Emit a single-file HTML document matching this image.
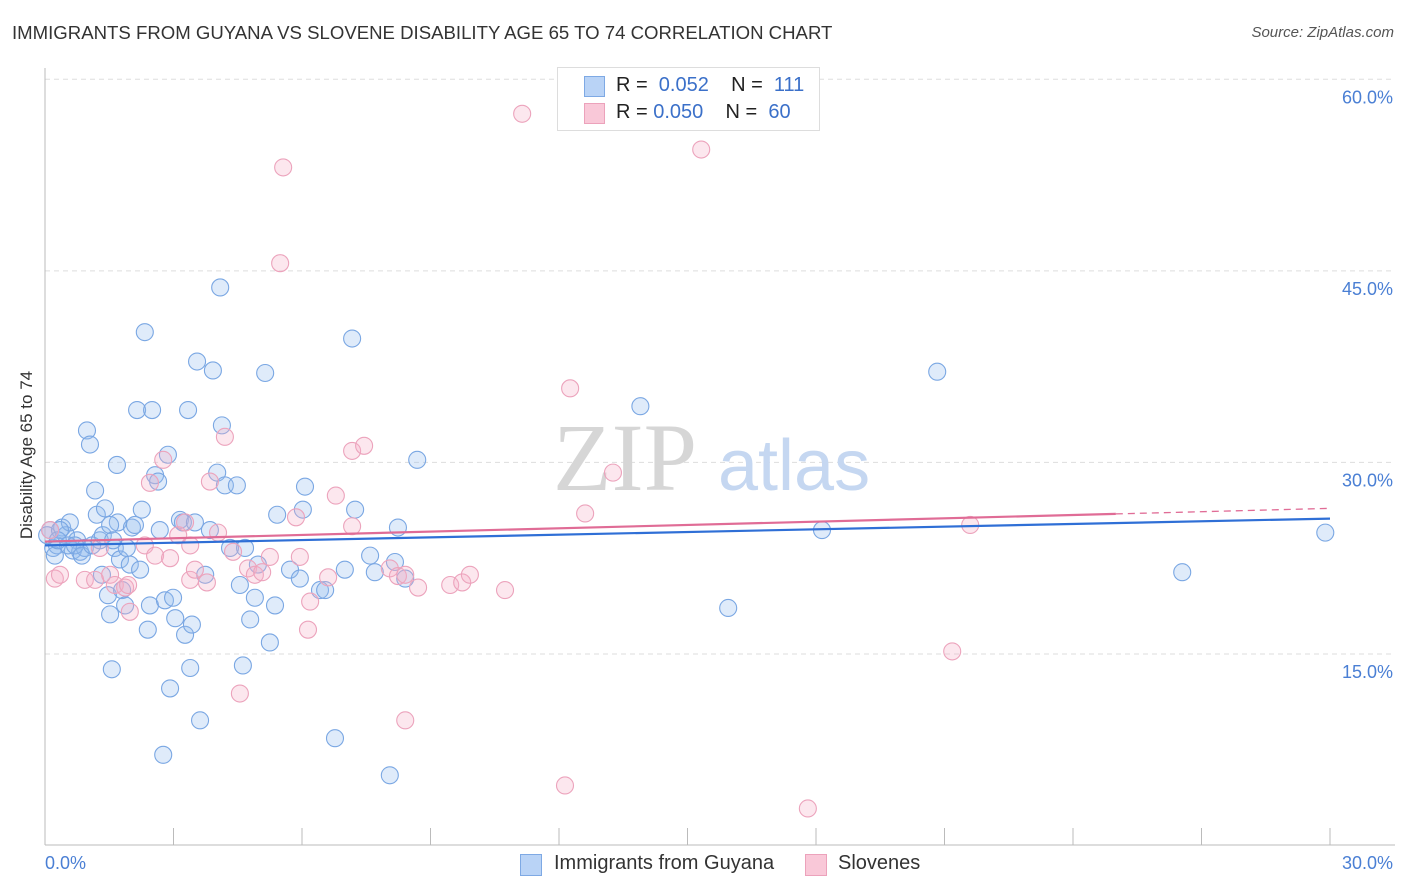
<!DOCTYPE html>
<html><head><meta charset="utf-8">
<style>
body{margin:0;background:#fff;font-family:"Liberation Sans",sans-serif;}
#wrap{position:relative;width:1406px;height:892px;overflow:hidden;}
.t{position:absolute;white-space:nowrap;}
</style></head>
<body>
<div id="wrap">
<div class="t" style="left:12px;top:22px;font-size:18.6px;color:#333;">IMMIGRANTS FROM GUYANA VS SLOVENE DISABILITY AGE 65 TO 74 CORRELATION CHART</div>
<div class="t" style="right:12px;top:24px;font-size:15px;color:#555;font-style:italic;">Source: ZipAtlas.com</div>
<svg id="svg" width="1406" height="892" style="position:absolute;left:0;top:0"></svg>
<div class="t" style="left:27px;top:455px;font-size:17px;color:#333;transform:translate(-50%,-50%) rotate(-90deg);">Disability Age 65 to 74</div>
<div style="position:absolute;left:557px;top:67px;width:261px;height:62px;border:1px solid #ddd;background:#fff;font-size:20px;">
  <div style="position:absolute;left:26px;top:8px;width:19px;height:19px;background:#b9d3f6;border:1px solid #7ea9e4;"></div>
  <div class="t" style="left:58px;top:6px;color:#222;">R = &nbsp;<span style="color:#3b70c9">0.052</span>&nbsp;&nbsp;&nbsp; N = &nbsp;<span style="color:#3b70c9">111</span></div>
  <div style="position:absolute;left:26px;top:35px;width:19px;height:19px;background:#f9c8d8;border:1px solid #eca2bb;"></div>
  <div class="t" style="left:58px;top:33px;color:#222;">R = <span style="color:#3b70c9">0.050</span>&nbsp;&nbsp;&nbsp; N = &nbsp;<span style="color:#3b70c9">60</span></div>
</div>
<div style="position:absolute;left:520px;top:852px;font-size:20px;color:#333;">
  <span style="position:absolute;left:0;top:2px;width:20px;height:20px;background:#b9d3f6;border:1px solid #7ea9e4;"></span>
  <span class="t" style="left:34px;top:0;">Immigrants from Guyana</span>
  <span style="position:absolute;left:285px;top:2px;width:20px;height:20px;background:#f9c8d8;border:1px solid #eca2bb;"></span>
  <span class="t" style="left:318px;top:0;">Slovenes</span>
</div>
</div>
<script>
const xTickLabels=["0.0%","30.0%"];
const yTicks=[15,30,45,60];
const yTickLabels=["15.0%","30.0%","45.0%","60.0%"];
const guyanaX=[0.12,0.19,0.28,0.40,0.49,0.58,0.65,0.75,0.82,0.93,0.98,1.05,1.17,1.21,1.28,1.33,1.40,1.47,1.52,1.56,1.63,1.70,1.75,1.68,1.80,1.87,1.91,1.98,2.03,2.10,2.15,2.22,2.26,2.33,2.40,2.45,2.50,2.57,2.64,2.68,2.76,2.80,2.87,2.92,2.99,3.04,3.15,3.22,3.27,3.34,3.39,3.43,3.50,3.55,3.62,3.74,3.85,3.92,4.02,4.09,4.13,4.20,4.32,4.48,4.55,4.62,4.67,4.79,4.90,4.97,5.14,5.25,5.37,5.42,5.72,5.95,6.02,6.07,6.42,6.54,6.77,7.00,7.17,7.24,7.59,7.70,8.05,8.17,8.24,8.41,8.69,13.9,15.95,18.14,20.83,26.55,29.89,0.05,0.23,0.35,0.30,0.54,0.70,0.86,1.10,1.35,1.52,1.59];
const guyanaY=[24.7,23.3,23.5,24.9,24.3,25.3,23.1,23.9,23.0,23.3,32.5,31.4,27.8,25.9,23.9,21.2,26.4,19.6,18.1,13.8,23.3,25.3,22.4,29.8,20.0,18.8,23.3,22.0,24.9,25.1,34.1,21.6,26.3,40.2,16.9,18.8,34.1,29.0,28.5,24.7,7.1,19.2,30.6,12.3,19.4,17.8,25.5,25.3,16.5,34.1,13.9,17.3,25.3,37.9,9.8,21.2,24.7,37.2,29.2,43.7,32.9,28.2,23.3,28.2,20.4,14.1,23.3,17.7,19.4,22.0,37.0,15.9,18.8,25.9,21.6,20.9,26.3,28.1,20.0,20.0,8.4,21.6,39.7,26.3,22.7,21.4,5.5,22.2,24.9,20.9,30.2,34.4,18.6,24.7,37.1,21.4,24.5,24.3,22.7,24.7,23.9,23.5,23.5,22.7,23.5,24.3,25.1,23.9];
const sloveneX=[0.12,0.23,0.35,0.93,1.17,1.28,1.52,1.63,1.87,1.98,1.94,2.33,2.45,2.57,2.76,2.92,3.11,3.27,3.39,3.50,3.78,3.85,4.04,4.20,4.39,4.55,4.74,4.90,5.07,5.25,5.56,5.49,5.86,5.95,6.19,6.14,6.61,6.79,7.17,7.17,7.45,8.05,8.24,8.41,8.41,8.71,9.46,9.74,9.92,10.74,11.14,12.14,12.26,12.61,13.26,15.32,17.81,21.18,21.6,3.39];
const sloveneY=[24.7,20.9,21.2,20.8,20.8,23.3,21.2,20.4,20.2,18.3,20.4,23.5,28.4,22.7,30.2,22.5,24.3,25.3,20.8,21.6,20.6,28.5,24.5,32.0,23.0,11.9,21.7,21.2,21.4,22.6,53.1,45.6,25.7,22.6,19.1,16.9,21.0,27.4,25.0,30.9,31.3,21.7,21.1,9.8,21.2,20.2,20.4,20.6,21.2,20.0,57.3,4.7,35.8,26.0,29.2,54.5,2.9,15.2,25.1,23.5];
const guyanaTrend=[23.5,25.6];
const sloveneTrend=[23.8,26.4];
const sloveneSolidEnd=25;

const NS="http://www.w3.org/2000/svg";
const svg=document.getElementById('svg');
const X0=45,X1=1330,Y0=845.5,YU=12.77;
const sx=v=>X0+v/30*(X1-X0);
const sy=v=>Y0-v*YU;
function mk(tag,attrs){const e=document.createElementNS(NS,tag);for(const k in attrs)e.setAttribute(k,attrs[k]);svg.appendChild(e);return e;}
yTicks.forEach((t,i)=>{
  const g=mk('line',{x1:X0,x2:1395,y1:sy(t),y2:sy(t),stroke:'#ddd','stroke-dasharray':'5,4'});
  
  
  const tx=mk('text',{x:1393,y:sy(t)+24,'text-anchor':'end','font-size':18,fill:'#4a7fd4','font-family':'Liberation Sans, sans-serif'});
  tx.textContent=yTickLabels[i];
  
  
});
const ya=mk('line',{x1:X0,x2:X0,y1:68,y2:845,stroke:'#bbb'});


const xa=mk('line',{x1:X0,x2:1395,y1:845,y2:845,stroke:'#bbb'});


for(let i=1;i<=10;i++){
  const tk=mk('line',{x1:sx(i*3),x2:sx(i*3),y1:828,y2:845,stroke:'#bbb'});
  
  
}
[[0,'start',45],[30,'end',1393]].forEach((d,i)=>{
  const tx=mk('text',{x:d[2],y:869,'text-anchor':d[1],'font-size':18,fill:'#4a7fd4','font-family':'Liberation Sans, sans-serif'});
  tx.textContent=xTickLabels[i];
  
  
});
const wm=mk('text',{x:553,y:490,'font-size':96,fill:'#d6d6d6','font-family':'Liberation Serif, serif'});
wm.textContent='ZIP';


const wm2=mk('text',{x:718,y:490,'font-size':72,fill:'#c5d7f1','font-family':'Liberation Sans, sans-serif'});
wm2.textContent='atlas';


guyanaX.forEach((x,i)=>{
  const c=mk('circle',{cx:sx(x),cy:sy(guyanaY[i]),r:8.5,fill:'rgba(150,188,240,0.3)',stroke:'#7aa7e3','stroke-width':1.1});
  
  
});
sloveneX.forEach((x,i)=>{
  const c=mk('circle',{cx:sx(x),cy:sy(sloveneY[i]),r:8.5,fill:'rgba(246,175,200,0.3)',stroke:'#eca3bc','stroke-width':1.1});
  
  
});
const tb=mk('line',{x1:sx(0),y1:sy(guyanaTrend[0]),x2:sx(30),y2:sy(guyanaTrend[1]),stroke:'#2f6fd6','stroke-width':2.2});


const pAt=x=>sloveneTrend[0]+(sloveneTrend[1]-sloveneTrend[0])*x/30;
const tp=mk('line',{x1:sx(0),y1:sy(pAt(0)),x2:sx(sloveneSolidEnd),y2:sy(pAt(sloveneSolidEnd)),stroke:'#e06c96','stroke-width':2.2});


const tpd=mk('line',{x1:sx(sloveneSolidEnd),y1:sy(pAt(sloveneSolidEnd)),x2:sx(30),y2:sy(pAt(30)),stroke:'#e06c96','stroke-width':1.3,'stroke-dasharray':'7,5'});


</script>
</body></html>
